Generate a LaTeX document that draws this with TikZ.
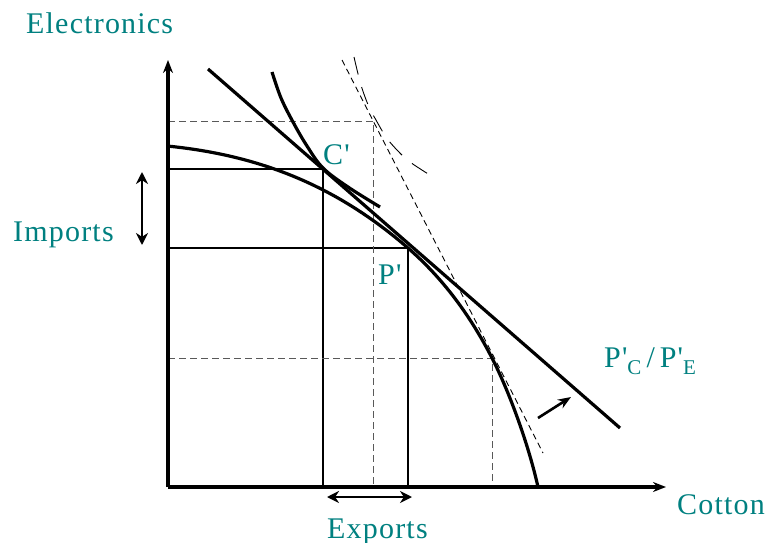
\documentclass[tikz,border=0pt]{standalone}
\usepackage{fontspec}
\setmainfont{Liberation Serif}[Ligatures=TeXOff,LetterSpace=4]
\usetikzlibrary{arrows.meta}
\definecolor{teal1}{RGB}{0,128,128}
\begin{document}
\begin{tikzpicture}[x=1pt,y=-1pt,
  thickline/.style={line width=3.2pt},
  thinline/.style={line width=1.5pt},
  dashline/.style={line width=1pt, dash pattern=on 7pt off 4pt, black!65},
  lab/.style={text=teal1, font=\fontsize{30}{32}\selectfont, inner sep=0pt, anchor=base west},
  arr/.style={-{Stealth[length=13pt,width=10pt]}, line width=2.8pt},
  darr/.style={{Stealth[length=12pt,width=12pt]}-{Stealth[length=12pt,width=12pt]}, line width=2.6pt}]
\useasboundingbox (0,0) rectangle (769,543);
% key points
\coordinate (O) at (168,487);
\coordinate (Ytip) at (168,60);
\coordinate (Xtip) at (666,487);
\coordinate (C) at (323,169);
\coordinate (P) at (408,248);
\coordinate (Cd) at (373,121);
\coordinate (Pd) at (492,358);
% thin solid guide lines
\draw[thinline] (C -| O) -- (C) -- (C |- O);
\draw[thinline] (P -| O) -- (P) -- (P |- O);
% dashed guide lines
\draw[dashline] (Cd -| O) -- (Cd) -- (Cd |- O);
\draw[dashline] (Pd -| O) -- (Pd) -- (Pd |- O);
% axes
\draw[arr, line width=3.2pt] (O) -- (Ytip);
\draw[arr, line width=3.2pt] (O) -- (Xtip);
% production possibility frontier
\coordinate (F0) at (167,146);
\coordinate (F3) at (538,487);
\draw[thickline] (F0) .. controls (247,154) and (328,178.4) .. (P)
  .. controls (443,278.5) and (470,315.1) .. (Pd)
  .. controls (510,393.1) and (529,446.5) .. (F3);
% price line
\coordinate (L1) at (208,69);
\coordinate (L2) at (620,428);
\draw[thickline] (L1) -- (L2);
% indifference curve
\draw[thickline] plot[smooth, tension=0.6] coordinates {(272,72) (281,98) (293,122) (307,146) (323,168) (348,187) (380,207)};
% dashed steep price line
\coordinate (D1) at (342,60);
\coordinate (D2) at (543,453);
\draw[line width=0.9pt, dash pattern=on 6pt off 4pt] (D1) -- (D2);
% dashed indifference curve
\draw[line width=0.9pt, dash pattern=on 18pt off 13pt] plot[smooth, tension=0.6] coordinates {(354,57) (361,85) (369,107) (376,120) (386,137) (397,150) (410,162) (433,177)};
% double arrows
\coordinate (I1) at (142,172);
\coordinate (I2) at (142,245);
\draw[darr] (I1) -- (I2);
\coordinate (E1) at (327,497);
\coordinate (E2) at (412,497);
\draw[darr] (E1) -- (E2);
% shift arrow
\coordinate (S1) at (538,418);
\coordinate (S2) at (571,397);
\draw[arr, line width=2.6pt] (S1) -- (S2);
% labels
\node[lab] (elec) at (26,34) {Electronics};
\node[lab] (imp) at (13,241) {Imports};
\node[lab] (exp) at (327,538) {Exports};
\node[lab] (cot) at (677,514) {Cotton};
\node[lab] (cl) at (323,164) {C'};
\node[lab] (pl) at (378,284) {P'};
\node[lab] (ratio) at (604,367) {P'\raisebox{-0.25em}{\fontsize{21}{21}\selectfont C}\,/\,P'\raisebox{-0.25em}{\fontsize{21}{21}\selectfont E}};
\end{tikzpicture}
\end{document}
